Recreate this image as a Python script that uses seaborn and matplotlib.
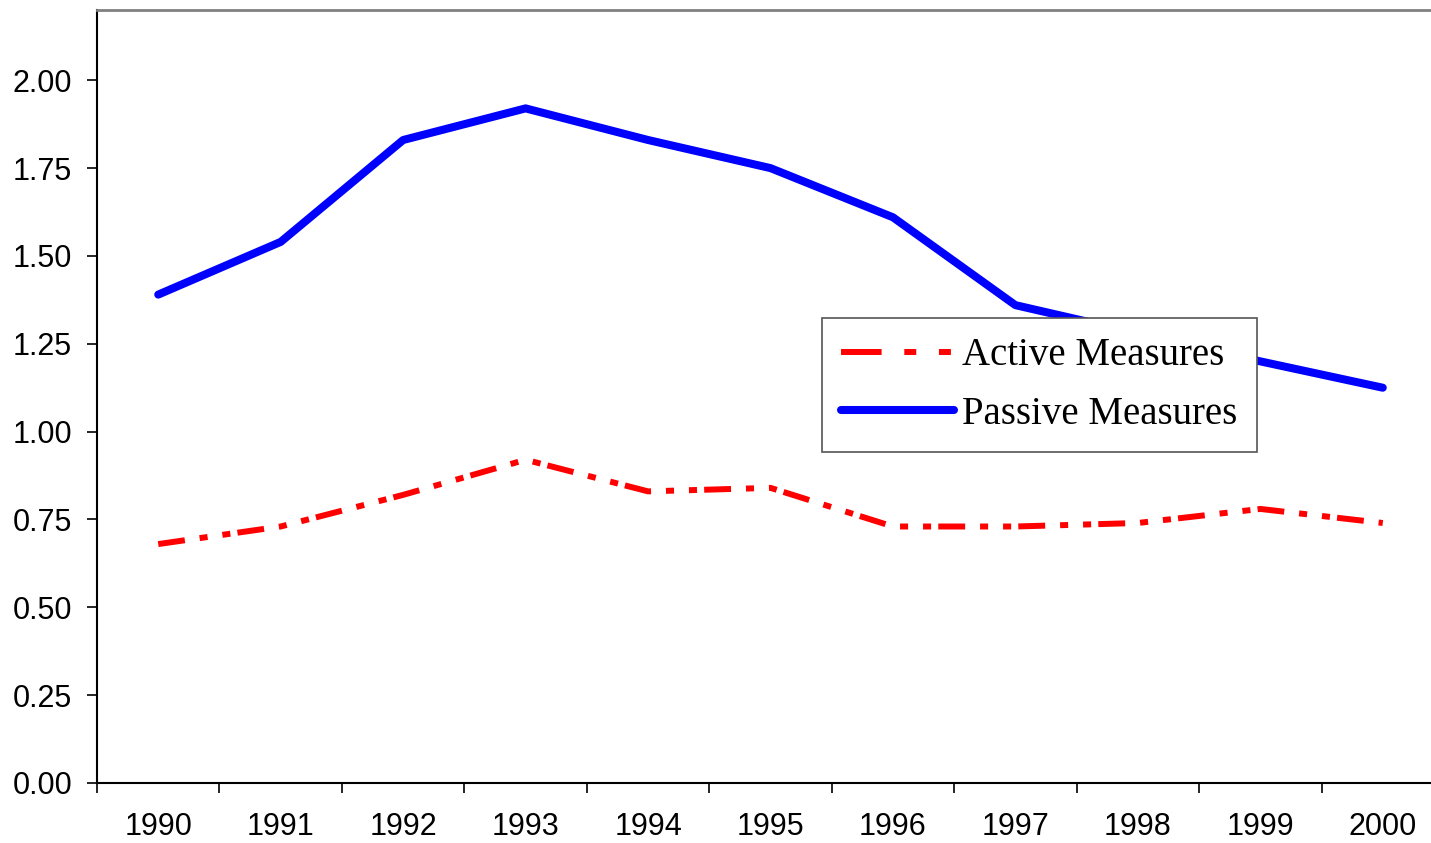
import numpy as np
import pandas as pd
import matplotlib
matplotlib.use("Agg")
import matplotlib.pyplot as plt
from matplotlib.lines import Line2D
from matplotlib.ticker import FixedLocator, FuncFormatter
import seaborn as sns

# values
years = [1990, 1991, 1992, 1993, 1994, 1995, 1996, 1997, 1998, 1999, 2000]
active = [0.68, 0.73, 0.82, 0.92, 0.83, 0.84, 0.73, 0.73, 0.74, 0.78, 0.74]
passive = [1.39, 1.54, 1.83, 1.92, 1.83, 1.75, 1.61, 1.36, 1.28, 1.20, 1.125]
y_ticks = [0.0, 0.25, 0.5, 0.75, 1.0, 1.25, 1.5, 1.75, 2.0]

df = pd.DataFrame({"Year": years, "Active Measures": active, "Passive Measures": passive})

sns.set_style("white")
plt.rcParams["font.family"] = ["Liberation Sans", "DejaVu Sans"]
plt.rcParams["text.color"] = "black"
plt.rcParams["xtick.color"] = "black"
plt.rcParams["ytick.color"] = "black"

W, H = 1431, 843
fig = plt.figure(figsize=(W / 100, H / 100), dpi=100)
# axes right edge falls just past the image edge, as in the original
ax = fig.add_axes([97 / W, 60 / H, (1444 - 97) / W, (783 - 10) / H])

red_dash = (0, (4.5, 2.5, 1.35, 2.5, 1.35, 1.2))
sns.lineplot(data=df, x="Year", y="Active Measures", ax=ax, color="#ff0000",
             linewidth=4.3, legend=False)
sns.lineplot(data=df, x="Year", y="Passive Measures", ax=ax, color="#0000ff",
             linewidth=5.8, legend=False)
ax.lines[0].set_linestyle(red_dash)
ax.lines[0].set_dash_capstyle("butt")
ax.lines[1].set_solid_capstyle("round")
ax.lines[1].set_solid_joinstyle("round")

ax.set_xlim(1989.5, 2000.5)
ax.set_ylim(0, 2.2)
ax.set_xlabel("")
ax.set_ylabel("")

ax.set_xticks(years)
ax.set_xticklabels([str(y) for y in years])
ax.xaxis.set_minor_locator(FixedLocator(np.arange(1989.5, 2001, 1.0)))
ax.tick_params(axis="x", which="major", length=0, pad=21, labelsize=22,
               labelcolor="black")
ax.tick_params(axis="x", which="minor", length=7, width=1.2, direction="out",
               color="black", bottom=True)
ax.set_yticks(y_ticks)
ax.yaxis.set_major_formatter(FuncFormatter(lambda v, p: f"{v:.2f}"))
ax.tick_params(axis="y", length=7, width=1.2, direction="out", pad=11,
               labelsize=22, color="black", labelcolor="black", left=True)

for side in ["left", "bottom"]:
    ax.spines[side].set_color("black")
    ax.spines[side].set_linewidth(1.5)
ax.spines["top"].set_color("#808080")
ax.spines["top"].set_linewidth(2)
ax.spines["right"].set_visible(False)

handles = [
    Line2D([], [], color="#ff0000", linewidth=4.3, dash_capstyle="butt",
           linestyle=(0, (6.8, 3.8, 2.0, 3.8, 2.0, 10))),
    Line2D([], [], color="#0000ff", linewidth=5.8, solid_capstyle="round"),
]
leg = ax.legend(handles, ["Active Measures", "Passive Measures"],
                loc="upper left", bbox_to_anchor=(822 / W, 1 - 318 / H),
                bbox_transform=fig.transFigure,
                prop={"family": "Liberation Serif", "size": 28},
                frameon=True, fancybox=False, framealpha=1,
                handlelength=2.9, handletextpad=0.2, borderpad=0.5,
                labelspacing=0.55, borderaxespad=0)
leg.get_frame().set_edgecolor("#555555")
leg.get_frame().set_linewidth(1.2)

fig.savefig("out.png", dpi=100)
